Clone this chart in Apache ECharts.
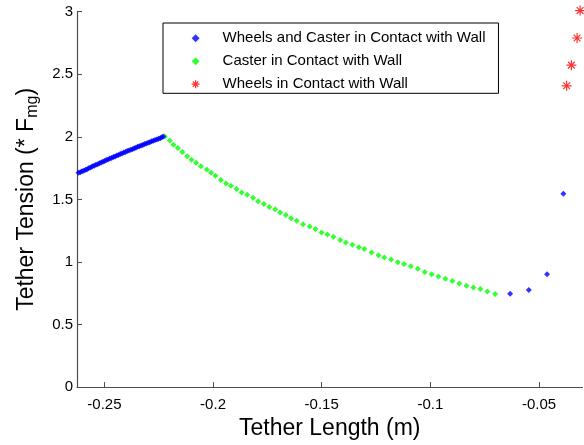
<!DOCTYPE html>
<html><head><meta charset="utf-8">
<script src="https://cdn.jsdelivr.net/npm/echarts@6/dist/echarts.min.js"></script>
<style>html,body{margin:0;padding:0;background:#fff}#c{width:584px;height:445px}</style>
</head><body><div id="c"></div>
<script>
const seriesNames = ['Wheels and Caster in Contact with Wall', 'Caster in Contact with Wall', 'Wheels in Contact with Wall'];
const xTicks = [-0.25, -0.2, -0.15, -0.1, -0.05];
const yTicks = [0, 0.5, 1, 1.5, 2, 2.5, 3];

const blueX = [-0.2619,-0.2611,-0.2603,-0.2595,-0.2587,-0.2579,-0.2571,-0.2563,-0.2555,-0.2547,
  -0.2539,-0.2531,-0.2523,-0.2515,-0.2507,-0.2499,-0.2491,-0.2483,-0.2475,-0.2467,
  -0.2459,-0.2451,-0.2443,-0.2435,-0.2427,-0.2419,-0.2411,-0.2403,-0.2395,-0.2387,
  -0.2379,-0.2371,-0.2363,-0.2355,-0.2347,-0.2339,-0.2331,-0.2323,-0.2315,-0.2307,
  -0.2299,-0.2291,-0.2283,-0.2275,-0.2267,-0.2259,-0.2251,-0.2243,-0.2236,-0.2229,
  -0.0633,-0.0547,-0.0463,-0.0388];
const blueY = [1.712,1.716,1.724,1.729,1.737,1.741,1.750,1.755,1.764,1.768,
  1.777,1.781,1.789,1.794,1.801,1.806,1.814,1.818,1.826,1.831,
  1.839,1.843,1.851,1.855,1.862,1.867,1.874,1.878,1.886,1.890,
  1.897,1.901,1.909,1.913,1.920,1.924,1.931,1.935,1.942,1.946,
  1.953,1.957,1.964,1.968,1.975,1.978,1.985,1.989,1.996,2.002,
  0.747,0.776,0.902,1.545];

const greenX = [-0.2222,-0.2199,-0.2182,-0.2162,-0.2141,-0.2119,-0.2099,-0.2078,-0.2056,-0.2029,
  -0.2009,-0.1989,-0.1964,-0.1940,-0.1918,-0.1892,-0.1869,-0.1843,-0.1816,-0.1793,
  -0.1766,-0.1741,-0.1714,-0.1691,-0.1665,-0.1641,-0.1615,-0.1586,-0.1555,-0.1529,
  -0.1501,-0.1474,-0.1446,-0.1415,-0.1389,-0.1359,-0.1329,-0.1304,-0.1271,-0.1239,
  -0.1212,-0.1181,-0.1150,-0.1121,-0.1090,-0.1058,-0.1026,-0.0994,-0.0963,-0.0931,
  -0.0899,-0.0867,-0.0834,-0.0802,-0.0770,-0.0738,-0.0702];
const greenY = [2.002,1.971,1.937,1.911,1.879,1.845,1.816,1.793,1.765,1.738,
  1.712,1.689,1.655,1.628,1.610,1.584,1.555,1.537,1.514,1.485,
  1.464,1.440,1.422,1.396,1.375,1.349,1.330,1.302,1.283,1.263,
  1.236,1.220,1.202,1.176,1.155,1.137,1.118,1.103,1.075,1.053,
  1.035,1.020,0.998,0.983,0.965,0.946,0.920,0.902,0.883,0.865,
  0.847,0.828,0.810,0.795,0.784,0.763,0.745];

const redX = [-0.0373,-0.0351,-0.0325,-0.0311];
const redY = [2.408,2.573,2.790,3.009];

function pairs(xs, ys) { return xs.map((x, i) => [x, ys[i]]); }

const starPath = 'path://M5,0L5,10M0,5L10,5M1.6,1.6L8.4,8.4M8.4,1.6L1.6,8.4';
const diamondPath = 'path://M5,0L10,5L5,10L0,5Z';
const font = 'Arial, "Liberation Sans", Helvetica, sans-serif';

const chart = echarts.init(document.getElementById('c'), null, {renderer: 'canvas'});
chart.setOption({
  animation: false,
  backgroundColor: '#fff',
  textStyle: {fontFamily: font},
  grid: {left: 77, right: 1.5, top: 11.7, bottom: 50.7, containLabel: false},
  legend: {
    orient: 'vertical',
    left: 163, top: 23,
    padding: [7.7, 13, 1.6, 28],
    itemWidth: 44, itemHeight: 8, itemGap: 8,
    symbolKeepAspect: true,
    backgroundColor: '#fff',
    borderColor: '#000', borderWidth: 1, borderRadius: 0,
    textStyle: {fontSize: 15, color: '#000', fontFamily: font},
    data: [
      {name: seriesNames[0], icon: diamondPath, itemStyle: {color: '#0000ff'}},
      {name: seriesNames[1], icon: diamondPath, itemStyle: {color: '#00ff00'}},
      {name: seriesNames[2], icon: starPath, itemStyle: {color: 'rgba(0,0,0,0)', borderColor: '#ff0000', borderWidth: 1.2}}
    ]
  },
  xAxis: {
    type: 'value', min: -0.2626, max: -0.03,
    name: 'Tether Length (m)', nameLocation: 'middle', nameGap: 28,
    nameTextStyle: {fontSize: 23, color: '#000', fontFamily: font},
    axisLine: {show: true, onZero: false, lineStyle: {color: '#4d4d4d', width: 1.2}},
    axisTick: {show: true, inside: true, length: 5, customValues: xTicks, lineStyle: {color: '#4d4d4d'}},
    axisLabel: {fontSize: 15, color: '#000', margin: 10, customValues: xTicks, fontFamily: font},
    splitLine: {show: false}
  },
  yAxis: {
    type: 'value', min: 0, max: 3, interval: 0.5,
    name: 'Tether Tension (* F{s|mg})', nameLocation: 'middle', nameGap: 36,
    nameTextStyle: {fontSize: 23, color: '#000', fontFamily: font,
      rich: {s: {fontSize: 16, color: '#000', fontFamily: font, padding: [13, 0, 0, 0]}}},
    axisLine: {show: true, lineStyle: {color: '#4d4d4d', width: 1.2}},
    axisTick: {show: true, inside: true, length: 5, lineStyle: {color: '#4d4d4d'}},
    axisLabel: {fontSize: 15, color: '#000', margin: 4, fontFamily: font,
      customValues: yTicks},
    splitLine: {show: false}
  },
  series: [
    {name: seriesNames[0], type: 'scatter', data: pairs(blueX, blueY), symbol: diamondPath, symbolSize: 6,
      symbolKeepAspect: true, itemStyle: {color: '#0000ff'}, clip: false, z: 3},
    {name: seriesNames[1], type: 'scatter', data: pairs(greenX, greenY), symbol: diamondPath, symbolSize: 6,
      symbolKeepAspect: true, itemStyle: {color: '#00ff00'}, clip: false, z: 2},
    {name: seriesNames[2], type: 'scatter', data: pairs(redX, redY), symbol: starPath, symbolSize: 10,
      symbolKeepAspect: true, itemStyle: {color: 'rgba(0,0,0,0)', borderColor: '#ff0000', borderWidth: 1.2}, clip: false, z: 2}
  ]
});
</script>
</body></html>
